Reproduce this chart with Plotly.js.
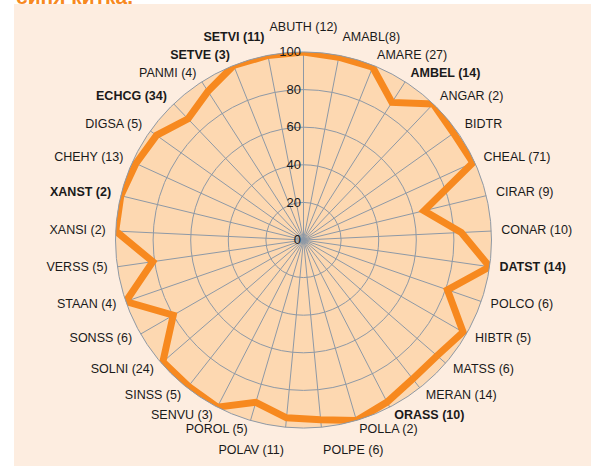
<!DOCTYPE html>
<html>
<head>
<meta charset="utf-8">
<script src="https://cdn.plot.ly/plotly-3.0.1.min.js"></script>
<style>html,body{margin:0;padding:0;background:#fff;}#chart{width:591px;height:466px;}</style>
</head>
<body>
<div id="chart"></div>
<script>
var categories = ["ABUTH (12)","AMABL(8)","AMARE (27)","AMBEL (14)","ANGAR (2)","BIDTR","CHEAL (71)","CIRAR (9)","CONAR (10)","DATST (14)","POLCO (6)","HIBTR (5)","MATSS (6)","MERAN (14)","ORASS (10)","POLLA (2)","POLPE (6)","POLAV (11)","POROL (5)","SENVU (3)","SINSS (5)","SOLNI (24)","SONSS (6)","STAAN (4)","VERSS (5)","XANSI (2)","XANST (2)","CHEHY (13)","DIGSA (5)","ECHCG (34)","PANMI (4)","SETVE (3)","SETVI (11)"];
var boldCategories = ["AMBEL (14)","DATST (14)","ORASS (10)","XANST (2)","ECHCG (34)","SETVE (3)","SETVI (11)"];
var values = [100,99,99,87,100,98,99,66,84,100,81,98,94,94,97,100,96,95,90,100,99,99,80,100,81,100,100,98,96,89,94,100,100];
var radialTicks = [0,20,40,60,80,100];
var titleText = "синя китка.";

// geometry / style constants
var W = 591, H = 466;
var CX = 303.5, CY = 226;        // centre, px from left / from bottom
var RADIUS = 188;                // px for r = 100
var RMAX = 100;
var LABEL_RMAX = 112;            // outer (label) subplot range
var LABEL_R = 105.3;
var POLE_LABEL_R = 109.5;
var R2 = RADIUS * LABEL_RMAX / RMAX;

function dom(c, rad, total){ return [(c - rad) / total, (c + rad) / total]; }

var n = categories.length;
var labelText = [], labelR = [], labelPos = [];
categories.forEach(function(c, i){
  var a = i * 360 / n;
  labelText.push(boldCategories.indexOf(c) >= 0 ? "<b>" + c + "</b>" : c);
  var pos, r = LABEL_R;
  if (a < 1 || a > 359) { pos = "top center"; r = POLE_LABEL_R; }
  else if (Math.abs(a - 180) < 8) { pos = a < 180 ? "bottom right" : "bottom left"; r = POLE_LABEL_R; }
  else {
    pos = a < 180 ? "middle right" : "middle left";
    if (a < 15 || a > 345) r = POLE_LABEL_R;
  }
  labelR.push(r); labelPos.push(pos);
});

var trace = {
  type: "scatterpolar",
  subplot: "polar",
  mode: "lines",
  r: values.concat([values[0]]),
  theta: categories.concat([categories[0]]),
  line: {color: "#F7891F", width: 7},
  hoverinfo: "skip"
};

var labels = {
  type: "scatterpolar",
  subplot: "polar2",
  mode: "text",
  r: labelR,
  theta: categories,
  text: labelText,
  textposition: labelPos,
  textfont: {size: 12.5, color: "#1a1a1a", family: "Liberation Sans, Arial, sans-serif"},
  cliponaxis: false,
  hoverinfo: "skip"
};

var angularCommon = {
  type: "category",
  categoryarray: categories,
  rotation: 90,
  direction: "clockwise"
};

var layout = {
  width: W, height: H,
  margin: {l: 0, r: 0, t: 0, b: 0},
  paper_bgcolor: "#FFFFFF",
  showlegend: false,
  dragmode: false,
  font: {family: "Liberation Sans, Arial, sans-serif", color: "#1a1a1a"},
  shapes: [{
    type: "rect", xref: "paper", yref: "paper", layer: "below",
    x0: 14/W, x1: 1, y0: 0, y1: 462/H,
    fillcolor: "#FDEDE0", line: {width: 0}
  }],
  annotations: [{
    xref: "paper", yref: "paper", x: 14/W, y: 1 + 4/H, xanchor: "left", yanchor: "middle",
    text: "<b>" + titleText + "</b>", showarrow: false,
    font: {size: 21, color: "#F7891F", family: "Liberation Sans, Arial, sans-serif"}
  }],
  polar: {
    domain: {x: dom(CX, RADIUS, W), y: dom(CY, RADIUS, H)},
    bgcolor: "#FDD8B1",
    angularaxis: Object.assign({}, angularCommon, {
      showticklabels: false,
      showgrid: true,
      gridcolor: "#8E99A6",
      gridwidth: 1,
      showline: true,
      linecolor: "#8E99A6",
      linewidth: 1,
      ticks: ""
    }),
    radialaxis: {
      range: [0, RMAX],
      angle: 90,
      tickangle: 90,
      side: "counterclockwise",
      tickmode: "array",
      tickvals: radialTicks,
      showline: false,
      showgrid: true,
      gridcolor: "#8E99A6",
      gridwidth: 1,
      ticks: "",
      tickfont: {size: 13, color: "#1a1a1a"}
    }
  },
  polar2: {
    domain: {x: dom(CX, R2, W), y: dom(CY, R2, H)},
    bgcolor: "rgba(0,0,0,0)",
    angularaxis: Object.assign({}, angularCommon, {
      showticklabels: false, showgrid: false, showline: false, ticks: ""
    }),
    radialaxis: {
      range: [0, LABEL_RMAX], visible: false, showgrid: false, showline: false, showticklabels: false
    }
  }
};

Plotly.newPlot("chart", [trace, labels], layout, {staticPlot: true, displayModeBar: false});
</script>
</body>
</html>
